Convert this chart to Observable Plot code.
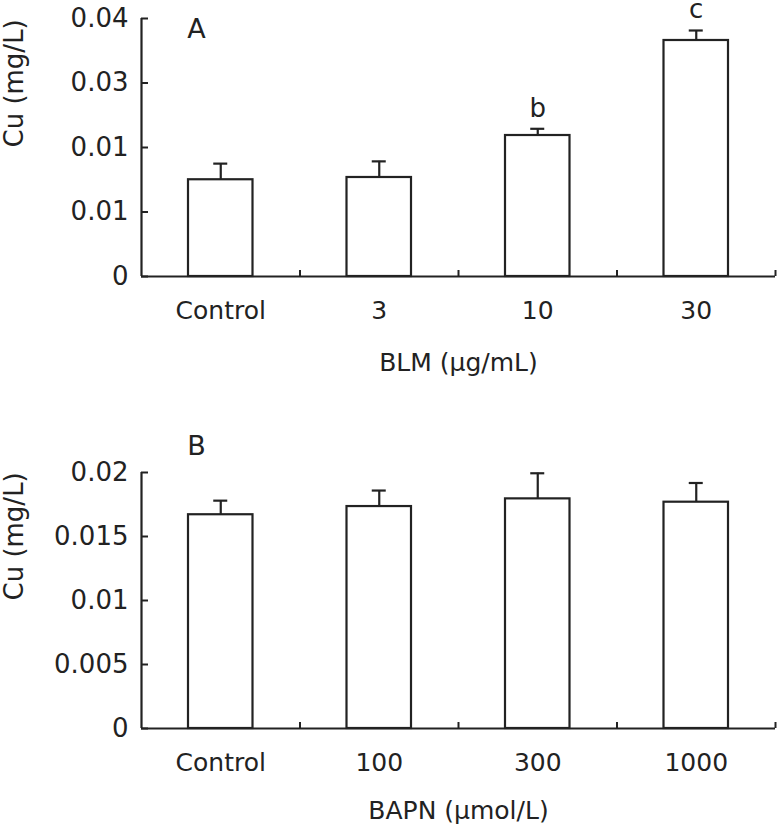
<!DOCTYPE html>
<html><head><meta charset="utf-8">
<script src="https://cdn.jsdelivr.net/npm/d3@7"></script>
<script src="https://cdn.jsdelivr.net/npm/@observablehq/plot@0.6"></script>
<style>
body{margin:0;background:#fff;}
#chart svg{display:block;}
</style>
</head><body><div id="chart"></div>
<script>
// ---- Panel A data ----
const categoriesA = ["Control", "3", "10", "30"];
const valuesA = [0.0150, 0.01535, 0.02186, 0.03659];
const errorsA = [0.0025, 0.0025, 0.00104, 0.00155];
const sigA = ["", "", "b", "c"];
const yTicksA = [0, 0.01, 0.02, 0.03, 0.04];
const yTickLabelsA = ["0", "0.01", "0.01", "0.03", "0.04"];
const xTitleA = "BLM (μg/mL)";
const letterA = "A";

// ---- Panel B data ----
const categoriesB = ["Control", "100", "300", "1000"];
const valuesB = [0.0167, 0.01734, 0.01794, 0.01768];
const errorsB = [0.0011, 0.00125, 0.0020, 0.0015];
const sigB = ["", "", "", ""];
const yTicksB = [0, 0.005, 0.01, 0.015, 0.02];
const yTickLabelsB = ["0", "0.005", "0.01", "0.015", "0.02"];
const xTitleB = "BAPN (μmol/L)";
const letterB = "B";

const yTitle = "Cu (mg/L)";

function panel(cfg) {
  const data = cfg.categories.map((c, i) => ({i, cat: c, value: cfg.values[i], err: cfg.errors[i], sig: cfg.sig[i]}));
  const centers = cfg.categories.map((c, i) => i + 0.5);
  const bounds = cfg.categories.map((c, i) => i + 1);
  const ink = "#222";
  return Plot.plot({
    width: 777,
    height: cfg.height,
    marginLeft: 141,
    marginRight: 2,
    marginTop: cfg.marginTop,
    marginBottom: cfg.marginBottom,
    style: {fontFamily: "DejaVu Sans", fontSize: "26px", color: ink, background: "white", overflow: "visible"},
    x: {domain: [0, cfg.categories.length], label: null},
    y: {domain: cfg.yDomain, label: null},
    marks: [
      Plot.rectY(data, {x1: d => d.i, x2: d => d.i + 1, y: "value", insetLeft: 47, insetRight: 47, fill: "white", stroke: ink, strokeWidth: 2.2}),
      Plot.ruleX(data, {x: d => d.i + 0.5, y1: "value", y2: d => d.value + d.err, stroke: ink, strokeWidth: 2.2}),
      Plot.ruleY(data, {y: d => d.value + d.err, x1: d => d.i + 0.5, x2: d => d.i + 0.5, insetLeft: -7, insetRight: -7, stroke: ink, strokeWidth: 2.2}),
      Plot.text(data.filter(d => d.sig), {x: d => d.i + 0.5, y: d => d.value + d.err, text: "sig", dy: -12, lineAnchor: "bottom", fontSize: 26, fill: ink}),
      Plot.ruleY([cfg.yDomain[0]], {stroke: ink, strokeWidth: 2.2}),
      Plot.ruleX([0], {stroke: ink, strokeWidth: 2.2}),
      Plot.axisY({ticks: cfg.yTicks, tickSize: -7, tickPadding: 20, strokeWidth: 2, fontSize: 26, label: null,
        tickFormat: d => cfg.yTickLabels[cfg.yTicks.indexOf(d)]}),
      Plot.axisX({ticks: centers, tickSize: 0, tickPadding: 25, fontSize: 25, label: null,
        tickFormat: d => cfg.categories[Math.floor(d)]}),
      Plot.axisX({ticks: bounds, tickSize: -6, strokeWidth: 2, label: null, tickFormat: () => ""}),
      Plot.text([cfg.xTitle], {frameAnchor: "bottom", dy: cfg.xTitleOffset, lineAnchor: "top", fontSize: 25, fill: ink}),
      Plot.text([yTitle], {frameAnchor: "left", rotate: -90, dx: -127, fontSize: 26, fill: ink}),
      Plot.text([cfg.letter], {frameAnchor: "top-left", dx: 55, dy: cfg.letterDy, lineAnchor: "top", textAnchor: "middle", fontSize: 27, fill: ink})
    ]
  });
}

const chart = document.getElementById("chart");
chart.append(panel({
  categories: categoriesA, values: valuesA, errors: errorsA, sig: sigA,
  yTicks: yTicksA, yTickLabels: yTickLabelsA, yDomain: [0, 0.04],
  xTitle: xTitleA, letter: letterA,
  height: 410, marginTop: 18, marginBottom: 134, xTitleOffset: 77, letterDy: 0
}));
chart.append(panel({
  categories: categoriesB, values: valuesB, errors: errorsB, sig: sigB,
  yTicks: yTicksB, yTickLabels: yTickLabelsB, yDomain: [0, 0.02],
  xTitle: xTitleB, letter: letterB,
  height: 415, marginTop: 62, marginBottom: 97, xTitleOffset: 73, letterDy: -37
}));
</script>
</body></html>
